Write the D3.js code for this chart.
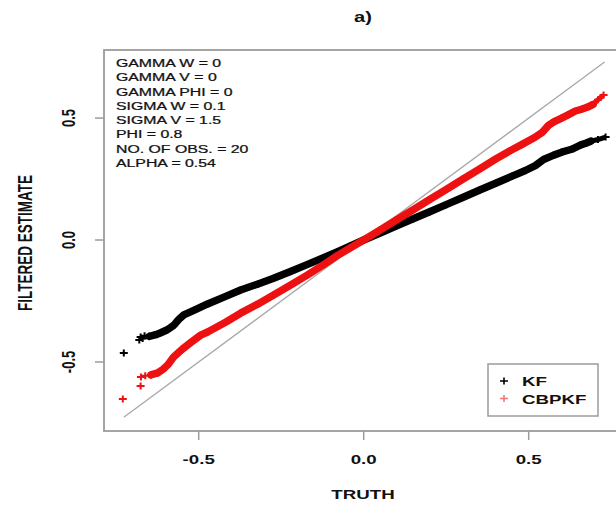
<!DOCTYPE html>
<html>
<head>
<meta charset="utf-8">
<script src="https://cdn.jsdelivr.net/npm/d3@7"></script>
<style>
  body { margin: 0; background: #fff; }
  text { font-family: "Liberation Sans", Arial, sans-serif; fill: #111; }
</style>
</head>
<body>
<div id="chart"></div>
<script>
// values: [truth, filtered estimate]
var kfPoints = [
  [-0.727,-0.463],[-0.680,-0.410],[-0.676,-0.398],[-0.670,-0.404],[-0.664,-0.392],
  [-0.650,-0.395],[-0.630,-0.388],[-0.615,-0.380],[-0.595,-0.368],[-0.576,-0.350],
  [-0.560,-0.325],[-0.545,-0.307],[-0.510,-0.285],[-0.473,-0.262],[-0.420,-0.232],
  [-0.373,-0.205],[-0.320,-0.180],[-0.273,-0.157],[-0.220,-0.128],[-0.170,-0.100],
  [-0.120,-0.072],[-0.079,-0.048],[-0.040,-0.024],[0.000,0.000],[0.050,0.029],
  [0.100,0.058],[0.150,0.087],[0.200,0.116],[0.250,0.145],[0.300,0.174],
  [0.350,0.204],[0.400,0.233],[0.450,0.262],[0.490,0.285],[0.520,0.305],
  [0.545,0.330],[0.576,0.348],[0.600,0.360],[0.630,0.372],[0.658,0.390],
  [0.675,0.398],[0.688,0.405],[0.710,0.412],[0.733,0.422]
];
var cbpkfPoints = [
  [-0.730,-0.652],[-0.676,-0.598],[-0.675,-0.562],[-0.662,-0.556],[-0.645,-0.553],
  [-0.624,-0.545],[-0.608,-0.530],[-0.594,-0.512],[-0.576,-0.480],[-0.550,-0.448],
  [-0.524,-0.420],[-0.494,-0.390],[-0.473,-0.377],[-0.420,-0.338],[-0.373,-0.300],
  [-0.320,-0.262],[-0.273,-0.225],[-0.220,-0.183],[-0.170,-0.143],[-0.120,-0.100],
  [-0.079,-0.063],[-0.040,-0.032],[0.000,0.000],[0.050,0.041],[0.100,0.083],
  [0.150,0.124],[0.200,0.166],[0.250,0.207],[0.300,0.249],[0.350,0.290],
  [0.400,0.332],[0.445,0.367],[0.480,0.392],[0.515,0.418],[0.540,0.440],
  [0.560,0.470],[0.576,0.484],[0.600,0.500],[0.618,0.512],[0.640,0.528],
  [0.660,0.536],[0.679,0.545],[0.695,0.556],[0.710,0.575],[0.727,0.594]
];
var diagRange = [-0.727, 0.730];
var xTicks = [-0.5, 0.0, 0.5];
var yTicks = [-0.5, 0.0, 0.5];
var infoLines = ["GAMMA W = 0","GAMMA V = 0","GAMMA PHI = 0","SIGMA W = 0.1",
                 "SIGMA V = 1.5","PHI = 0.8","NO. OF OBS. = 20","ALPHA = 0.54"];
var seriesNames = ["KF","CBPKF"];
var seriesColors = ["#000000","#ee1111"];

const width = 616, height = 506;
const sx = 1.44;   // the picture is stretched sideways, text too

var svg = d3.select("#chart").append("svg")
  .attr("width", width).attr("height", height);

var x = d3.scaleLinear().domain([-0.787, 0.787]).range([104, 623.4]);
var y = d3.scaleLinear().domain([-0.783, 0.779]).range([431, 50]);

var plus = function(g, pts, color, w) {
  g.selectAll("path").data(pts).enter().append("path")
    .attr("d", function(d) {
      var px = x(d[0]), py = y(d[1]);
      return "M" + (px-4) + "," + py + "H" + (px+4) + "M" + px + "," + (py-3.5) + "V" + (py+3.5);
    })
    .style("stroke", color).style("stroke-width", w).style("fill", "none");
};

// y = x reference segment
svg.append("line")
  .attr("x1", x(diagRange[0])).attr("y1", y(diagRange[0]))
  .attr("x2", x(diagRange[1])).attr("y2", y(diagRange[1]))
  .style("stroke", "#a8a8a8").style("stroke-width", 1.3);

var band = d3.line().x(function(d) { return x(d[0]); }).y(function(d) { return y(d[1]); });

[kfPoints, cbpkfPoints].forEach(function(pts, i) {
  var g = svg.append("g");
  // dense middle of the cloud
  g.append("path")
    .datum(pts.filter(function(d) { return d[0] > -0.655 && d[0] < 0.70; }))
    .attr("d", band)
    .style("fill", "none").style("stroke", seriesColors[i])
    .style("stroke-width", 7.5).style("stroke-linejoin", "round").style("stroke-linecap", "round");
  // thinner ragged tails
  g.append("path")
    .datum(pts.filter(function(d) { return d[0] > 0.55; }))
    .attr("d", band)
    .style("fill", "none").style("stroke", seriesColors[i])
    .style("stroke-width", 5).style("stroke-linejoin", "round");
  plus(g.append("g"), pts, seriesColors[i], 2);
});

// box
svg.append("rect")
  .attr("x", 104).attr("y", 50).attr("width", 520).attr("height", 381)
  .style("fill", "none").style("stroke", "#9c9c9c").style("stroke-width", 1.8);

// x axis
svg.selectAll(".xt").data(xTicks).enter().append("line")
  .attr("x1", function(d) { return x(d); }).attr("x2", function(d) { return x(d); })
  .attr("y1", 431).attr("y2", 440)
  .style("stroke", "#9c9c9c").style("stroke-width", 1.5);
svg.selectAll(".xl").data(xTicks).enter().append("text")
  .attr("transform", function(d) { return "translate(" + x(d) + ",464) scale(" + sx + ",1)"; })
  .attr("text-anchor", "middle").style("font-size", "13px").style("font-weight", "bold")
  .text(function(d) { return d3.format(".1f")(d).replace("−", "-"); });

// y axis
svg.selectAll(".yt").data(yTicks).enter().append("line")
  .attr("y1", function(d) { return y(d); }).attr("y2", function(d) { return y(d); })
  .attr("x1", 95).attr("x2", 104)
  .style("stroke", "#9c9c9c").style("stroke-width", 1.5);
svg.selectAll(".yl").data(yTicks).enter().append("text")
  .attr("transform", function(d) { return "translate(75," + y(d) + ") scale(" + sx + ",1) rotate(-90)"; })
  .attr("text-anchor", "middle").style("font-size", "13px").style("font-weight", "bold")
  .text(function(d) { return d3.format(".1f")(d).replace("−", "-"); });

// titles
svg.append("text")
  .attr("transform", "translate(363,22) scale(" + sx + ",1)")
  .attr("text-anchor", "middle").style("font-size", "14px").style("font-weight", "bold")
  .text("a)");
svg.append("text")
  .attr("transform", "translate(363,499) scale(" + sx + ",1)")
  .attr("text-anchor", "middle").style("font-size", "13px").style("font-weight", "bold")
  .text("TRUTH");
svg.append("text")
  .attr("transform", "translate(32,243) scale(" + sx + ",1) rotate(-90)")
  .attr("text-anchor", "middle").style("font-size", "13.5px").style("font-weight", "bold")
  .text("FILTERED ESTIMATE");

// parameter block
svg.append("g").selectAll("text").data(infoLines).enter().append("text")
  .attr("transform", function(d, i) { return "translate(116," + (67 + i * 14.29) + ") scale(" + sx + ",1)"; })
  .style("font-size", "11px")
  .style("stroke", "#111").style("stroke-width", 0.25)
  .text(function(d) { return d; });

// legend
var leg = svg.append("g");
leg.append("rect")
  .attr("x", 488).attr("y", 364).attr("width", 110).attr("height", 52)
  .style("fill", "#fff").style("stroke", "#9c9c9c").style("stroke-width", 1.5);
leg.selectAll("path").data(seriesNames).enter().append("path")
  .attr("d", function(d, i) { var cy = 381 + i * 17.5; return "M500," + cy + "H508M504," + (cy-3.5) + "V" + (cy+3.5); })
  .style("stroke", function(d, i) { return i ? "#e77" : "#000"; }).style("stroke-width", 1.6);
leg.selectAll("text").data(seriesNames).enter().append("text")
  .attr("transform", function(d, i) { return "translate(522," + (386 + i * 17.5) + ") scale(" + sx + ",1)"; })
  .style("font-size", "13px").style("font-weight", "bold")
  .text(function(d) { return d; });
</script>
</body>
</html>
